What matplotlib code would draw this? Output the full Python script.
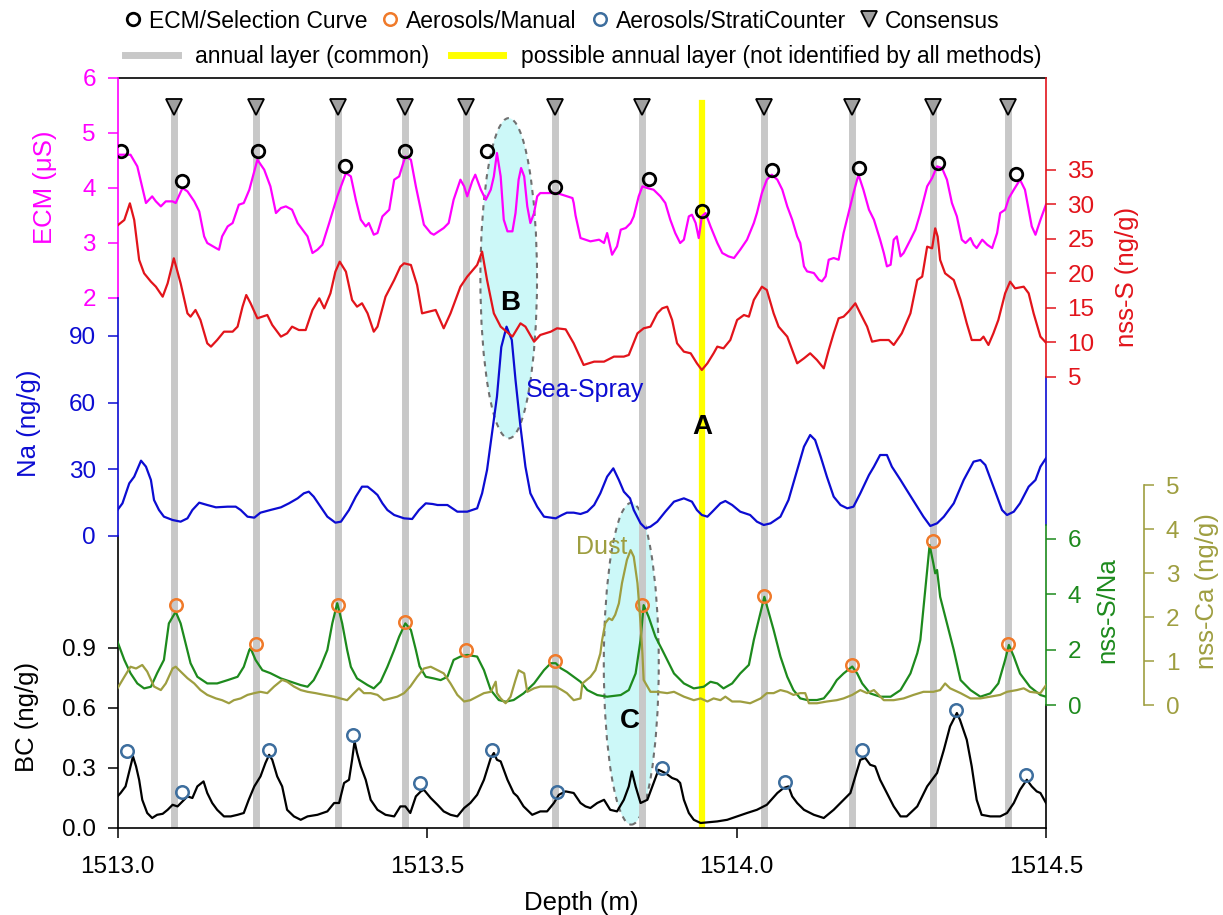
import numpy as np
import matplotlib
matplotlib.use("Agg")
import matplotlib.pyplot as plt
from matplotlib.lines import Line2D
from matplotlib.patches import Ellipse
from matplotlib.ticker import FormatStrFormatter
from matplotlib.transforms import blended_transform_factory

plt.rcParams['font.family'] = ['Liberation Sans', 'DejaVu Sans']

# ---------------- data (depth given as metres below 1513.0 m) ----------------
TOP_DEPTH = 1513.0

ECM_D = [0.001,0.021,0.032,0.046,0.056,0.062,0.070,0.078,0.089,0.094,
         0.105,0.113,0.124,0.132,0.140,0.145,0.159,0.164,0.169,0.178,
         0.186,0.196,0.204,0.213,0.226,0.237,0.247,0.256,0.264,0.272,
         0.282,0.291,0.299,0.307,0.315,0.323,0.331,0.342,0.355,0.369,
         0.377,0.385,0.393,0.401,0.406,0.414,0.420,0.428,0.439,0.447,
         0.455,0.465,0.474,0.482,0.490,0.495,0.506,0.511,0.527,0.535,
         0.543,0.554,0.560,0.565,0.573,0.578,0.587,0.595,0.603,0.608,
         0.613,0.619,0.624,0.630,0.638,0.643,0.648,0.652,0.657,0.662,
         0.667,0.673,0.678,0.683,0.710,0.735,0.737,0.740,0.748,0.756,
         0.764,0.778,0.786,0.791,0.796,0.799,0.807,0.813,0.821,0.829,
         0.834,0.842,0.848,0.856,0.866,0.877,0.885,0.893,0.901,0.909,
         0.915,0.923,0.928,0.934,0.939,0.944,0.950,0.958,0.969,0.977,
         0.987,0.996,1.006,1.017,1.028,1.033,1.041,1.049,1.057,1.066,
         1.074,1.082,1.090,1.098,1.103,1.109,1.114,1.125,1.133,1.138,
         1.144,1.149,1.157,1.165,1.173,1.181,1.189,1.197,1.205,1.214,
         1.222,1.232,1.238,1.243,1.249,1.254,1.259,1.265,1.270,1.281,
         1.289,1.297,1.308,1.316,1.324,1.332,1.340,1.348,1.356,1.364,
         1.370,1.378,1.383,1.388,1.397,1.405,1.413,1.421,1.426,1.434,
         1.440,1.448,1.458,1.466,1.472,1.477,1.483,1.491,1.500]
ECM_V = [4.605,4.605,4.393,3.727,3.848,3.757,3.666,3.757,3.757,3.727,
         3.999,3.939,3.757,3.575,3.120,3.000,2.908,2.878,3.120,3.302,
         3.363,3.696,3.727,3.969,4.514,4.333,4.030,3.545,3.636,3.666,
         3.605,3.363,3.242,3.120,2.818,2.878,2.969,3.363,3.848,4.272,
         4.211,3.787,3.424,3.302,3.363,3.151,3.181,3.484,3.605,4.151,
         4.211,4.575,4.514,4.030,3.605,3.333,3.181,3.151,3.272,3.363,
         3.787,4.151,4.030,3.848,4.121,4.242,3.969,3.787,3.969,4.211,
         4.636,4.211,3.424,3.212,3.212,3.545,4.151,4.363,4.211,3.666,
         3.363,3.545,3.848,3.908,3.908,3.817,3.727,3.500,3.090,3.060,
         3.030,3.060,3.000,3.181,2.939,2.787,2.939,3.242,3.272,3.363,
         3.484,3.848,4.030,3.999,3.969,3.848,3.727,3.424,3.181,3.000,
         3.060,3.484,3.514,3.363,3.090,3.484,3.545,3.302,3.000,2.818,
         2.757,2.727,2.878,3.060,3.363,3.545,3.908,4.151,4.242,4.151,
         3.969,3.666,3.424,3.120,3.000,2.575,2.484,2.454,2.333,2.302,
         2.393,2.696,2.727,2.696,3.181,3.545,3.908,4.242,3.969,3.605,
         3.424,3.060,2.818,2.575,2.605,3.060,3.120,2.757,2.818,3.060,
         3.242,3.545,4.030,4.181,4.393,4.363,4.151,3.727,3.484,3.060,
         3.000,3.090,2.969,2.908,3.060,2.969,2.908,3.181,3.545,3.605,
         3.817,3.969,4.151,3.969,3.605,3.302,3.150,3.420,3.700]

NSS_D = [0.001,0.011,0.020,0.027,0.035,0.043,0.054,0.062,0.073,0.081,
         0.091,0.102,0.113,0.118,0.126,0.134,0.145,0.151,0.161,0.172,
         0.186,0.194,0.202,0.208,0.215,0.226,0.234,0.242,0.250,0.264,
         0.274,0.282,0.293,0.304,0.315,0.326,0.334,0.344,0.352,0.359,
         0.369,0.379,0.387,0.395,0.404,0.414,0.420,0.433,0.447,0.457,
         0.463,0.474,0.484,0.492,0.503,0.514,0.527,0.538,0.554,0.565,
         0.581,0.589,0.597,0.608,0.619,0.638,0.651,0.659,0.673,0.683,
         0.700,
         0.710,0.724,0.737,0.753,0.770,0.786,0.802,0.818,0.826,
         0.840,0.850,0.861,0.872,0.880,0.888,0.896,0.904,0.915,0.926,
         0.936,0.944,0.953,0.963,0.969,0.979,0.990,1.001,1.012,1.020,
         1.028,1.041,1.049,1.060,1.068,1.082,1.098,1.109,1.119,1.130,
         1.141,1.149,1.157,1.165,1.173,1.181,1.192,1.200,1.211,1.219,
         1.232,1.246,1.254,1.267,1.281,1.292,1.300,1.308,1.316,1.321,
         1.325,1.329,1.337,1.351,1.362,1.372,1.380,1.394,1.399,1.407,
         1.415,1.423,1.434,1.442,1.450,1.464,1.472,1.480,1.491,1.500]
NSS_V = [27.02,27.74,30.16,27.74,21.94,20.00,18.79,18.06,16.61,18.55,
         22.18,18.55,14.19,13.71,14.68,13.23,9.84,9.36,10.32,11.53,
         11.53,12.26,15.16,16.85,15.65,13.47,13.71,13.95,12.50,10.81,
         11.29,12.26,11.77,11.77,14.68,16.37,14.92,17.10,20.24,21.69,
         20.24,16.13,15.16,15.65,14.19,11.53,12.26,16.61,19.03,20.97,
         21.45,21.21,18.31,14.19,14.44,14.68,12.02,14.19,18.06,19.52,
         21.21,23.15,19.03,14.19,12.26,10.81,12.74,12.26,10.08,11.05,
         11.53,
         12.02,11.87,9.84,6.70,7.18,7.18,7.91,7.91,8.15,
         11.29,12.02,12.26,14.19,14.92,15.16,13.23,9.84,8.63,8.39,
         6.94,5.97,6.94,8.39,9.36,9.11,10.32,13.23,13.95,13.71,
         16.13,18.06,17.58,14.19,12.26,10.81,6.94,7.66,8.39,7.42,
         6.21,8.87,11.29,13.47,13.71,14.44,15.65,14.19,12.26,10.08,
         10.32,10.32,9.60,11.29,14.19,19.03,19.52,23.87,23.63,26.53,
         25.32,21.94,20.00,19.03,16.13,12.74,10.32,10.32,10.81,9.60,
         11.29,13.23,17.10,18.79,17.82,18.06,17.10,14.19,10.81,9.93]

NA_D = [0.000,0.008,0.019,0.027,0.038,0.046,0.054,0.059,0.067,0.075,
        0.089,0.102,0.113,0.121,0.132,0.145,0.159,0.178,0.191,0.199,
        0.210,0.221,0.231,0.247,0.264,0.277,0.291,0.301,0.309,0.317,
        0.328,0.339,0.352,0.361,0.374,0.385,0.395,0.404,0.414,0.420,
        0.428,0.436,0.447,0.463,0.476,0.487,0.498,0.509,0.517,0.525,
        0.533,0.541,0.549,0.565,0.581,0.589,0.597,0.605,0.613,0.620,
        0.6285,0.637,0.643,0.651,0.659,0.667,0.678,0.689,0.708,0.718,
        0.726,0.737,0.748,
        0.759,0.770,0.780,0.791,0.801,0.810,0.818,0.828,0.834,0.845,
        0.853,0.861,0.872,0.885,0.899,0.915,0.928,0.936,0.944,0.953,
        0.961,0.974,0.982,0.993,1.006,1.022,1.033,1.044,1.055,1.071,
        1.084,1.098,1.109,1.119,1.127,1.136,1.146,1.157,1.168,1.179,
        1.189,1.200,1.214,1.222,1.232,1.243,1.251,1.265,1.275,1.292,
        1.302,1.313,1.324,1.335,1.351,1.367,1.383,1.394,1.402,1.415,
        1.429,1.437,1.448,1.458,1.472,1.483,1.491,1.500]
NA_V = [11.7,14.7,23.7,26.7,33.9,31.2,25.2,16.2,11.7,8.7,
        7.2,6.45,7.95,11.7,15.0,13.95,12.9,13.2,13.2,11.7,
        8.7,8.25,10.5,11.7,12.9,14.7,16.95,19.2,19.95,17.7,
        13.2,8.7,6.0,6.45,11.7,17.7,22.2,22.2,19.95,18.45,
        14.7,11.7,9.45,7.95,7.65,11.7,14.7,14.4,13.95,13.95,
        13.95,12.45,10.95,10.95,12.45,19.2,29.7,46.2,62.7,85.0,
        94.2,88.2,70.2,49.2,31.2,19.2,13.2,8.7,7.95,9.45,
        10.5,10.5,9.9,
        10.95,13.95,19.2,26.7,30.45,25.2,19.95,16.95,11.7,5.7,
        3.45,4.2,6.45,10.95,15.45,16.95,15.45,11.7,9.45,8.7,
        10.95,14.7,15.75,13.95,10.95,9.45,6.45,4.95,5.7,8.7,
        16.2,29.7,40.2,45.45,43.2,35.7,26.7,17.7,13.95,12.45,
        13.2,19.2,27.45,31.2,36.45,36.45,31.2,25.2,20.7,13.2,
        8.7,4.5,5.7,8.7,14.7,25.2,33.45,34.2,31.95,22.2,
        11.7,9.45,10.95,14.7,22.2,25.2,31.2,35.0]

RATIO_D = [0.000,0.011,0.021,0.032,0.043,0.054,0.064,0.075,0.083,0.094,
           0.102,0.110,0.118,0.129,0.145,0.161,0.178,0.194,0.204,0.213,
           0.215,0.223,0.234,0.247,0.264,0.280,0.296,0.307,0.317,0.328,
           0.339,0.347,0.355,0.363,0.371,0.377,0.387,0.404,0.414,0.425,
           0.436,0.447,0.455,0.465,0.474,0.482,0.488,0.498,0.511,0.522,
           0.533,0.543,0.554,0.565,0.581,0.592,0.603,0.616,0.627,0.640,
           0.656,0.673,0.689,0.700,0.708,0.716,0.726,0.737,0.748,0.759,
           0.775,0.791,0.813,0.826,0.837,0.845,0.850,0.858,0.869,0.880,
           0.888,0.899,0.915,0.931,0.947,0.958,0.969,0.979,0.993,1.006,
           1.020,1.028,1.045,1.060,1.071,1.082,1.092,1.103,1.114,1.130,
           1.141,1.152,1.162,1.173,1.187,1.195,1.203,1.216,1.232,1.249,
           1.265,1.281,1.292,1.297,1.312,1.318,1.321,1.324,1.329,1.340,
           1.351,1.362,1.378,1.394,1.410,1.423,1.434,1.440,1.448,1.458,
           1.474,1.491,1.500]
RATIO_V = [2.29,1.63,1.15,0.78,0.60,0.66,1.15,1.63,2.95,3.37,
           2.95,2.23,1.51,1.02,0.78,0.78,0.90,1.02,1.38,1.99,
           2.05,1.63,1.26,1.15,0.96,0.84,0.72,0.66,0.90,1.38,
           1.99,2.95,3.68,2.95,1.99,1.38,0.96,0.72,0.60,0.84,
           1.38,1.99,2.47,2.95,2.71,1.99,1.40,1.02,0.96,0.90,
           1.02,1.63,1.75,1.81,1.75,1.26,0.54,0.18,0.12,0.18,
           0.42,0.78,1.26,1.51,1.51,1.33,1.20,1.02,0.84,0.54,
           0.36,0.30,0.36,0.54,1.14,2.35,3.61,3.19,2.47,1.99,
           1.63,1.14,0.78,0.60,0.66,0.84,0.78,0.60,0.78,1.14,
           1.45,2.35,3.91,2.71,1.75,1.02,0.54,0.24,0.18,0.18,
           0.24,0.54,0.90,1.14,1.39,1.14,0.78,0.42,0.30,0.30,
           0.54,1.14,1.87,2.35,5.78,5.12,4.76,4.88,3.91,2.95,
           1.99,0.90,0.54,0.30,0.42,0.78,1.63,2.17,1.75,1.14,
           0.66,0.36,0.30]

CA_D = [0.000,0.011,0.021,0.030,0.040,0.048,0.059,0.070,0.078,0.089,
        0.094,0.102,0.113,0.124,0.134,0.145,0.159,0.169,0.180,0.188,
        0.199,0.210,0.221,0.231,0.242,0.253,0.266,0.274,0.285,0.296,
        0.307,0.320,0.334,0.350,0.360,0.371,0.382,0.390,0.398,0.409,
        0.420,0.430,0.441,0.452,0.463,0.473,0.484,0.495,0.506,0.517,
        0.527,0.538,0.549,0.560,0.570,0.581,0.592,0.603,0.611,0.613,
        0.619,0.627,0.635,0.643,0.648,0.657,0.662,0.673,0.683,0.694,
        0.708,0.718,0.726,0.737,0.748,
        0.751,0.764,0.772,0.780,0.783,0.788,0.794,0.799,0.804,0.810,
        0.815,0.823,0.829,0.834,0.840,0.845,0.848,0.850,0.861,0.872,
        0.888,0.899,0.915,0.931,0.942,0.953,0.963,0.974,0.982,0.993,
        1.006,1.022,1.039,1.049,1.060,1.071,1.082,1.092,1.103,1.111,
        1.117,1.130,1.146,1.162,1.173,1.187,1.200,1.211,1.222,1.238,
        1.254,1.270,1.286,1.302,1.318,1.329,1.337,1.345,1.362,1.378,
        1.394,1.410,1.426,1.437,1.453,1.464,1.474,1.491,1.500]
CA_V = [0.38,0.64,0.87,0.83,0.91,0.76,0.42,0.34,0.49,0.83,
        0.87,0.76,0.61,0.49,0.34,0.23,0.15,0.11,0.04,0.11,
        0.15,0.23,0.27,0.30,0.27,0.42,0.57,0.53,0.42,0.34,
        0.30,0.27,0.23,0.19,0.15,0.11,0.27,0.38,0.27,0.27,
        0.23,0.11,0.15,0.19,0.27,0.42,0.64,0.83,0.87,0.79,
        0.72,0.49,0.23,0.08,0.11,0.19,0.27,0.30,0.53,0.27,
        0.15,0.04,0.19,0.57,0.79,0.72,0.30,0.38,0.42,0.42,
        0.42,0.34,0.27,0.11,0.15,
        0.49,0.64,0.79,1.17,1.48,1.86,1.97,1.93,2.05,2.31,
        2.77,3.30,3.52,3.37,2.77,1.86,1.17,0.57,0.30,0.30,
        0.27,0.30,0.19,0.11,0.15,0.08,0.15,0.11,0.19,0.08,
        0.08,0.04,0.15,0.27,0.27,0.34,0.30,0.23,0.27,0.27,
        0.04,0.04,0.08,0.11,0.15,0.23,0.34,0.27,0.34,0.11,
        0.11,0.15,0.23,0.30,0.30,0.34,0.49,0.38,0.27,0.15,
        0.15,0.19,0.23,0.30,0.34,0.38,0.30,0.27,0.45]

BC_D = [0.000,0.005,0.013,0.021,0.025,0.030,0.035,0.040,0.048,0.056,
        0.064,0.073,0.081,0.089,0.097,0.105,0.113,0.121,0.129,0.139,
        0.145,0.153,0.161,0.172,0.183,0.194,0.204,0.212,0.221,0.231,
        0.239,0.245,0.250,0.258,0.266,0.274,0.285,0.296,0.307,0.323,
        0.339,0.350,0.358,0.366,0.374,0.379,0.383,0.387,0.393,0.401,
        0.409,0.420,0.433,0.447,0.457,0.465,0.473,0.482,0.490,0.495,
        0.506,0.517,0.527,0.538,0.549,0.560,0.570,0.581,0.592,0.603,
        0.608,0.613,0.619,0.630,0.640,0.646,0.656,0.670,0.683,0.694,
        0.705,0.713,0.724,0.737,0.748,
        0.756,0.764,0.775,0.786,0.796,0.807,0.818,0.826,0.831,0.837,
        0.845,0.856,0.864,0.874,0.885,0.896,0.904,0.909,0.915,0.923,
        0.931,0.942,0.952,0.969,0.985,1.001,1.017,1.033,1.049,1.066,
        1.076,1.084,1.090,1.098,1.109,1.125,1.141,1.157,1.173,1.184,
        1.192,1.200,1.208,1.216,1.224,1.232,1.243,1.254,1.265,1.275,
        1.292,1.308,1.324,1.335,1.345,1.356,1.361,1.372,1.380,1.388,
        1.396,1.410,1.426,1.437,1.448,1.458,1.469,1.477,1.485,1.491,
        1.500]
BC_V = [0.158,0.175,0.208,0.308,0.358,0.308,0.240,0.141,0.075,0.050,
        0.066,0.071,0.091,0.116,0.108,0.133,0.158,0.150,0.208,0.233,
        0.175,0.125,0.091,0.058,0.058,0.066,0.075,0.141,0.208,0.258,
        0.325,0.366,0.341,0.258,0.208,0.091,0.058,0.041,0.058,0.066,
        0.083,0.125,0.125,0.225,0.241,0.341,0.433,0.375,0.308,0.241,
        0.141,0.091,0.066,0.058,0.108,0.108,0.075,0.158,0.183,0.191,
        0.150,0.116,0.083,0.066,0.058,0.100,0.125,0.166,0.241,0.350,
        0.375,0.341,0.333,0.241,0.175,0.158,0.108,0.066,0.083,0.083,
        0.125,0.166,0.183,0.175,0.125,
        0.108,0.100,0.125,0.141,0.091,0.083,0.141,0.208,0.283,0.208,
        0.125,0.141,0.208,0.291,0.275,0.250,0.241,0.225,0.141,0.075,
        0.041,0.025,0.028,0.033,0.041,0.058,0.075,0.091,0.116,0.175,
        0.200,0.208,0.158,0.125,0.091,0.066,0.050,0.091,0.141,0.175,
        0.258,0.341,0.350,0.316,0.308,0.241,0.175,0.108,0.058,0.058,
        0.108,0.208,0.275,0.391,0.508,0.575,0.541,0.441,0.308,0.141,
        0.066,0.058,0.058,0.075,0.125,0.191,0.241,0.208,0.183,0.175,
        0.125]

# picks (absolute depth, m)
ECM_PICK_D = [1513.006,1513.105,1513.227,1513.368,1513.465,1513.597,1513.707,
              1513.859,1513.945,1514.057,1514.198,1514.325,1514.452]
ECM_PICK_V = [4.665,4.12,4.665,4.405,4.665,4.665,4.02,4.17,3.575,4.33,4.36,4.45,4.26]
MANUAL_D = [1513.094,1513.223,1513.356,1513.465,1513.563,1513.706,1513.847,
            1514.045,1514.186,1514.317,1514.439]
MANUAL_V = [3.60,2.215,3.60,3.0,1.99,1.60,3.60,3.95,1.45,5.93,2.20]
STRATI_D = [1513.015,1513.104,1513.245,1513.380,1513.489,1513.605,1513.710,
            1513.879,1514.079,1514.203,1514.354,1514.468]
STRATI_V = [0.3865,0.18,0.39,0.465,0.225,0.39,0.18,0.30,0.23,0.39,0.59,0.265]
LAYERS = [1513.092,1513.223,1513.356,1513.464,1513.563,1513.706,1513.847,
          1514.044,1514.186,1514.317,1514.438]
POSSIBLE_LAYER = 1513.944

X_TICKS = [1513.0, 1513.5, 1514.0, 1514.5]
ECM_TICKS = [2, 3, 4, 5, 6]
NA_TICKS = [0, 30, 60, 90]
BC_TICKS = [0.0, 0.3, 0.6, 0.9]
NSS_TICKS = [5, 10, 15, 20, 25, 30, 35]
RATIO_TICKS = [0, 2, 4, 6]
CA_TICKS = [0, 1, 2, 3, 4, 5]

# ---------------- style ----------------
C_ECM = '#ff00ff'
C_NSS = '#e2141b'
C_NA = '#0c0cd2'
C_RATIO = '#1d8a1d'
C_CA = '#9e9e40'
C_BC = '#000000'
C_MAN = '#f07a2a'
C_STR = '#3d6e9e'
C_LAYER = '#c8c8c8'
C_POSS = '#ffff00'
C_ELL = '#ccf8f8'

TS = 17.5   # tick label size
LS = 18.5   # axis label size
TL = 7.2    # tick length
TW = 1.1
TP = 8.3
SPW = 1.2
LW = 1.6

W, H = 1223, 915
L, R, T, B = 117.5, 1046.0, 78.0, 828.0


def fx(px):
    return px / W


def fy(py):
    return 1 - py / H


fig = plt.figure(figsize=(W / 100, H / 100), dpi=100)
ax = fig.add_axes([fx(L), fy(B), (R - L) / W, (B - T) / H])
ax.set_xlim(X_TICKS[0], X_TICKS[-1])


def setup(a, side, color, lim, ticks, bounds, fmt='%g'):
    a.set_ylim(*lim)
    for s in a.spines.values():
        s.set_visible(False)
    sp = a.spines[side]
    sp.set_visible(True)
    sp.set_color(color)
    sp.set_linewidth(SPW)
    sp.set_bounds(*bounds)
    if side == 'left':
        a.yaxis.tick_left()
    else:
        a.yaxis.tick_right()
    a.set_yticks(ticks)
    a.yaxis.set_major_formatter(FormatStrFormatter(fmt))
    a.tick_params(axis='y', colors=color, direction='out', length=TL,
                  width=TW, labelsize=TS, pad=TP)


# y ranges chosen so each series sits in its own band of the shared frame
setup(ax, 'left', C_BC, (0, 3.75), BC_TICKS, (0, 1.46), '%.1f')
for side in ('top', 'bottom'):
    ax.spines[side].set_visible(True)
    ax.spines[side].set_linewidth(SPW)
    ax.spines[side].set_color('k')
ax.spines['right'].set_visible(True)
ax.spines['right'].set_linewidth(SPW)
ax.spines['right'].set_bounds(0, 0.615)
ax.set_xticks(X_TICKS)
ax.xaxis.set_major_formatter(FormatStrFormatter('%.1f'))
ax.tick_params(axis='x', direction='out', length=TL, width=TW, labelsize=TS, pad=13)
ax.set_xlabel('Depth (m)', fontsize=LS, labelpad=9)

ax_ecm = ax.twinx()
setup(ax_ecm, 'left', C_ECM, (6 - 750 / 55.0, 6), ECM_TICKS, (2, 6))
ax_na = ax.twinx()
setup(ax_na, 'left', C_NA, (-131.4, 206.1), NA_TICKS, (0, 107.0))
ax_na.spines['right'].set_visible(True)
ax_na.spines['right'].set_color(C_NA)
ax_na.spines['right'].set_linewidth(SPW)
ax_na.spines['right'].set_bounds(4.95, 71.7)
ax_nss = ax.twinx()
setup(ax_nss, 'right', C_NSS, (-60.51, 48.35), NSS_TICKS, (5, 48.35))
ax_ratio = ax.twinx()
setup(ax_ratio, 'right', C_RATIO, (-4.445, 22.66), RATIO_TICKS, (0, 6.505))
ax_ca = ax.twinx()
setup(ax_ca, 'right', C_CA, (-2.795, 14.25), CA_TICKS, (0, 5))
ax_ca.spines['right'].set_position(('axes', (1144.3 - L) / (R - L)))

blend = blended_transform_factory(ax.transData, ax.transAxes)

# annual layer markers and highlight ellipses
for d in LAYERS:
    ax.axvline(d, ymin=0, ymax=0.961, color=C_LAYER, lw=5, zorder=1)
ax.axvline(POSSIBLE_LAYER, ymin=0, ymax=0.967, color=C_POSS, lw=4.5, zorder=1.1)
ax.add_patch(Ellipse((1513.632, 0.733), 0.0915, 0.427, transform=blend,
                     facecolor=C_ELL, edgecolor='#707070', lw=1.5,
                     ls=(0, (2.5, 2.5)), zorder=0.5))
ax.add_patch(Ellipse((1513.830, 0.219), 0.0888, 0.429, transform=blend,
                     facecolor=C_ELL, edgecolor='#707070', lw=1.5,
                     ls=(0, (2.5, 2.5)), zorder=0.5))
ax.plot(LAYERS, [0.961] * len(LAYERS), transform=blend, ls='none', marker='v',
        ms=12, mfc='#a0a0a0', mec='k', mew=1.3, zorder=6, clip_on=False)


def depth(offsets):
    return TOP_DEPTH + np.asarray(offsets)


ax.plot(depth(BC_D), BC_V, color=C_BC, lw=LW, zorder=3)
ax.plot(STRATI_D, STRATI_V, ls='none', marker='o', ms=9, mfc='none', mec=C_STR, mew=1.8, zorder=5)
ax_ecm.plot(depth(ECM_D), ECM_V, color=C_ECM, lw=LW, zorder=3)
ax_ecm.plot(ECM_PICK_D, ECM_PICK_V, ls='none', marker='o', ms=9, mfc='none', mec='k', mew=2, zorder=5)
ax_na.plot(depth(NA_D), NA_V, color=C_NA, lw=LW, zorder=3)
ax_nss.plot(depth(NSS_D), NSS_V, color=C_NSS, lw=LW, zorder=3)
ax_ca.plot(depth(CA_D), CA_V, color=C_CA, lw=LW, zorder=3)
ax_ratio.plot(depth(RATIO_D), RATIO_V, color=C_RATIO, lw=LW, zorder=3)
ax_ratio.plot(MANUAL_D, MANUAL_V, ls='none', marker='o', ms=9, mfc='none', mec=C_MAN, mew=1.8, zorder=5)

# annotations
tb = blended_transform_factory(ax_ca.transData, ax_ca.transAxes)
ax_ca.text(POSSIBLE_LAYER, 0.535, 'A', transform=tb, ha='center', va='center',
           fontsize=20, fontweight='bold')
ax_ca.text(1513.635, 0.700, 'B', transform=tb, ha='center', va='center',
           fontsize=20, fontweight='bold')
ax_ca.text(1513.8276, 0.142, 'C', transform=tb, ha='center', va='center',
           fontsize=20, fontweight='bold')
ax_ca.text(1513.659, 0.584, 'Sea-Spray', transform=tb, ha='left', va='center',
           fontsize=18, color=C_NA)
ax_ca.text(1513.740, 0.375, 'Dust', transform=tb, ha='left', va='center',
           fontsize=18, color=C_CA)

# axis titles
fig.text(fx(45), fy(187), 'ECM (μS)', rotation=90, ha='center', va='center', color=C_ECM, fontsize=LS)
fig.text(fx(29), fy(423), 'Na (ng/g)', rotation=90, ha='center', va='center', color=C_NA, fontsize=LS)
fig.text(fx(27), fy(717), 'BC (ng/g)', rotation=90, ha='center', va='center', color=C_BC, fontsize=LS)
fig.text(fx(1127), fy(277), 'nss-S (ng/g)', rotation=90, ha='center', va='center', color=C_NSS, fontsize=LS)
fig.text(fx(1107), fy(610), 'nss-S/Na', rotation=90, ha='center', va='center', color=C_RATIO, fontsize=LS)
fig.text(fx(1207), fy(591), 'nss-Ca (ng/g)', rotation=90, ha='center', va='center', color=C_CA, fontsize=LS)

# legends
h1 = [Line2D([], [], ls='none', marker='o', ms=9, mfc='none', mec='k', mew=2),
      Line2D([], [], ls='none', marker='o', ms=9, mfc='none', mec=C_MAN, mew=1.8),
      Line2D([], [], ls='none', marker='o', ms=9, mfc='none', mec=C_STR, mew=1.8),
      Line2D([], [], ls='none', marker='v', ms=12, mfc='#a0a0a0', mec='k', mew=1.3)]
fig.legend(h1, ['ECM/Selection Curve', 'Aerosols/Manual', 'Aerosols/StratiCounter', 'Consensus'],
           loc='center left', bbox_to_anchor=(fx(123.7), fy(21)), ncol=4, frameon=False,
           fontsize=16.5, handlelength=0.8, handletextpad=0.3, columnspacing=0.6,
           borderpad=0, borderaxespad=0)
h2 = [Line2D([], [], color=C_LAYER, lw=5), Line2D([], [], color=C_POSS, lw=5)]
fig.legend(h2, ['annual layer (common)', 'possible annual layer (not identified by all methods)'],
           loc='center left', bbox_to_anchor=(fx(125), fy(57)), ncol=2, frameon=False,
           fontsize=16.5, handlelength=2.3, handletextpad=0.75, columnspacing=0.95,
           borderpad=0, borderaxespad=0)

fig.savefig('out.png', dpi=100)
